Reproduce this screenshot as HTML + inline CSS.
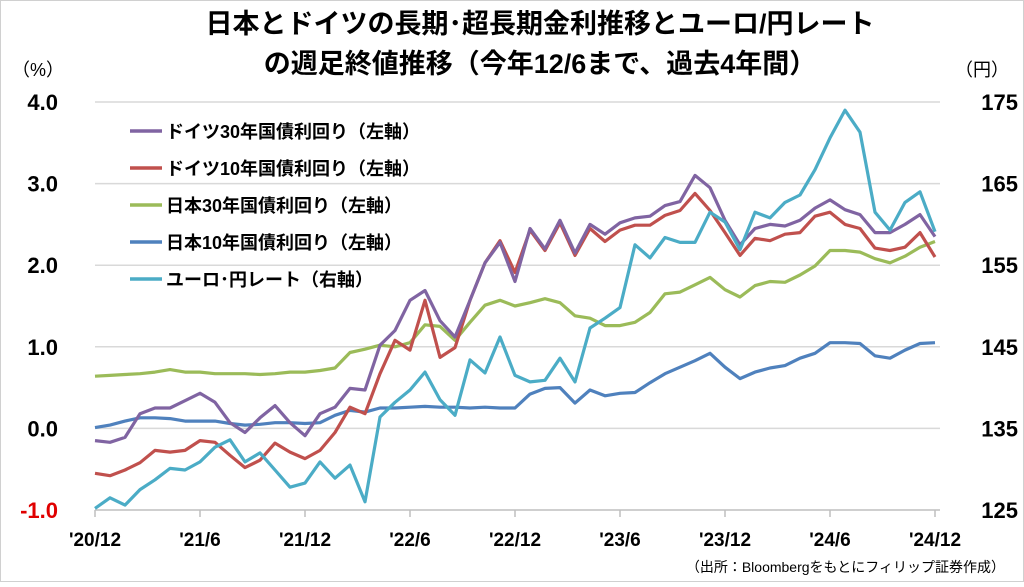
<!DOCTYPE html>
<html><head><meta charset="utf-8">
<style>
html,body{margin:0;padding:0;background:#fff;}
body{width:1024px;height:582px;overflow:hidden;font-family:"Liberation Sans","Noto Sans CJK JP",sans-serif;}
</style></head>
<body>
<svg id="chart" width="1024" height="582" viewBox="0 0 1024 582" xmlns="http://www.w3.org/2000/svg" style="font-family:'Liberation Sans','Noto Sans CJK JP',sans-serif">
<rect x="0.5" y="0.5" width="1023" height="581" fill="#fff" stroke="#d0d0d0"/>
<text x="540" y="33" text-anchor="middle" font-size="27" font-weight="bold" fill="#000">日本とドイツの長期･超長期金利推移とユーロ/円レート</text>
<text x="540" y="73" text-anchor="middle" font-size="27" font-weight="bold" fill="#000">の週足終値推移（今年12/6まで、過去4年間）</text>
<text x="12" y="76" font-size="18" fill="#000">（%）</text>
<text x="955" y="76" font-size="18" fill="#000">（円）</text>
<g id="grid"></g>
<g id="axes"></g>
<g id="series"></g>
<g id="legend"></g>
<text x="1005" y="572" text-anchor="end" font-size="14" fill="#000">（出所：Bloombergをもとにフィリップ証券作成）</text>
</svg>
<script>
const xLabels = ["'20/12","'21/6","'21/12","'22/6","'22/12","'23/6","'23/12","'24/6","'24/12"];
const leftTicks = [4.0,3.0,2.0,1.0,0.0,-1.0];
const rightTicks = [175,165,155,145,135,125];
const de30 = [-0.15,-0.17,-0.11,0.18,0.25,0.25,0.34,0.43,0.32,0.07,-0.05,0.13,0.28,0.07,-0.09,0.18,0.26,0.49,0.47,1.02,1.20,1.57,1.69,1.32,1.12,1.57,2.03,2.28,1.80,2.45,2.20,2.55,2.15,2.50,2.38,2.52,2.58,2.60,2.73,2.78,3.10,2.95,2.55,2.25,2.45,2.50,2.48,2.55,2.70,2.80,2.68,2.62,2.40,2.40,2.50,2.62,2.35];
const de10 = [-0.55,-0.58,-0.51,-0.42,-0.27,-0.29,-0.27,-0.15,-0.17,-0.33,-0.48,-0.39,-0.18,-0.29,-0.37,-0.27,-0.05,0.26,0.18,0.67,1.08,0.96,1.57,0.87,0.99,1.57,2.03,2.30,1.91,2.43,2.18,2.52,2.12,2.45,2.29,2.43,2.49,2.49,2.61,2.67,2.88,2.67,2.40,2.12,2.33,2.30,2.38,2.40,2.60,2.65,2.50,2.45,2.21,2.18,2.22,2.40,2.10];
const jp30 = [0.64,0.65,0.66,0.67,0.69,0.72,0.69,0.69,0.67,0.67,0.67,0.66,0.67,0.69,0.69,0.71,0.74,0.93,0.97,1.02,1.00,1.05,1.27,1.25,1.08,1.30,1.51,1.57,1.50,1.54,1.59,1.54,1.38,1.35,1.26,1.26,1.30,1.42,1.65,1.67,1.76,1.85,1.70,1.61,1.75,1.80,1.79,1.88,1.99,2.18,2.18,2.16,2.08,2.03,2.11,2.22,2.29];
const jp10 = [0.01,0.04,0.09,0.13,0.13,0.12,0.09,0.09,0.09,0.06,0.04,0.05,0.07,0.07,0.06,0.07,0.16,0.22,0.20,0.25,0.25,0.26,0.27,0.26,0.26,0.25,0.26,0.25,0.25,0.42,0.49,0.50,0.31,0.47,0.40,0.43,0.44,0.56,0.67,0.75,0.83,0.92,0.75,0.61,0.69,0.74,0.77,0.86,0.92,1.05,1.05,1.04,0.89,0.86,0.96,1.04,1.05];
const eurjpy = [125.2,126.5,125.6,127.5,128.7,130.1,129.9,130.9,132.7,133.6,130.9,132.0,129.9,127.8,128.3,130.9,128.9,130.5,126.0,136.4,138.2,139.7,141.9,138.5,136.6,143.4,141.8,146.2,141.5,140.7,140.9,143.6,140.7,147.3,148.5,149.8,157.5,155.9,158.4,157.8,157.8,161.5,160.3,156.9,161.5,160.8,162.7,163.6,166.7,170.6,174.0,171.3,161.5,159.3,162.7,164.0,159.1];

const NS='http://www.w3.org/2000/svg';
const X0=95, X1=935, YT=102, YB=510;
const yL = v => YB - (v - (-1)) / 5 * (YB - YT);
const yR = v => YB - (v - 125) / 50 * (YB - YT);
const xI = (i,n) => X0 + i * (X1 - X0) / (n - 1);
const xLab = i => X0 + i * (X1 - X0) / (xLabels.length - 1);
function mk(tag, attrs, parent){const e=document.createElementNS(NS,tag);for(const k in attrs)e.setAttribute(k,attrs[k]);parent.appendChild(e);return e;}
const grid=document.getElementById('grid'), axes=document.getElementById('axes'), ser=document.getElementById('series'), leg=document.getElementById('legend');

leftTicks.forEach((t,i)=>{
  const y=yL(t);
  if(t>-1){const l=mk('line',{x1:X0,x2:940,y1:y,y2:y,stroke:'#d9d9d9','stroke-width':1.5},grid);
  
  }
  const tx=mk('text',{x:58,y:y+8,'text-anchor':'end','font-size':22,'font-weight':'bold',fill:t<0?'#e00000':'#000'},axes);
  tx.textContent=t.toFixed(1);
  
  
});
rightTicks.forEach(t=>{
  const tx=mk('text',{x:1018,y:yR(t)+8,'text-anchor':'end','font-size':22,'font-weight':'bold',fill:'#000'},axes);
  tx.textContent=t;
  
  
});
const ax=mk('line',{x1:X0,x2:940,y1:YB,y2:YB,stroke:'#bfbfbf','stroke-width':1.5},axes);


xLabels.forEach((s,i)=>{
  const x=xLab(i);
  const tk=mk('line',{x1:x,x2:x,y1:YB,y2:YB+7,stroke:'#bfbfbf','stroke-width':1.5},axes);
  
  
  const tx=mk('text',{x:x,y:546,'text-anchor':'middle','font-size':19,'font-weight':'bold',fill:'#000'},axes);
  tx.textContent=s;
  
  
});
function line(arr, yf, color, name){
  const d=arr.map((v,i)=>(i?'L':'M')+xI(i,arr.length).toFixed(1)+','+yf(v).toFixed(1)).join(' ');
  const p=mk('path',{d:d,fill:'none',stroke:color,'stroke-width':3.2,'stroke-linejoin':'round'},ser);
  
  
}
line(jp30,yL,'#9bbb59','line-japan-30y');
line(jp10,yL,'#4f81bd','line-japan-10y');
line(de10,yL,'#c0504d','line-germany-10y');
line(de30,yL,'#8064a2','line-germany-30y');
line(eurjpy,yR,'#4bacc6','line-eur-jpy');

const legItems=[['ドイツ30年国債利回り（左軸）','#8064a2'],['ドイツ10年国債利回り（左軸）','#c0504d'],['日本30年国債利回り（左軸）','#9bbb59'],['日本10年国債利回り（左軸）','#4f81bd'],['ユーロ･円レート（右軸）','#4bacc6']];
legItems.forEach((it,i)=>{
  const y=131+i*37;
  const l=mk('line',{x1:130,x2:162,y1:y,y2:y,stroke:it[1],'stroke-width':3.5},leg);
  
  
  const t=mk('text',{x:166,y:y+7,'font-size':18,'font-weight':'bold',fill:'#000'},leg);
  t.textContent=it[0];
  
  
});
</script>
</body></html>
